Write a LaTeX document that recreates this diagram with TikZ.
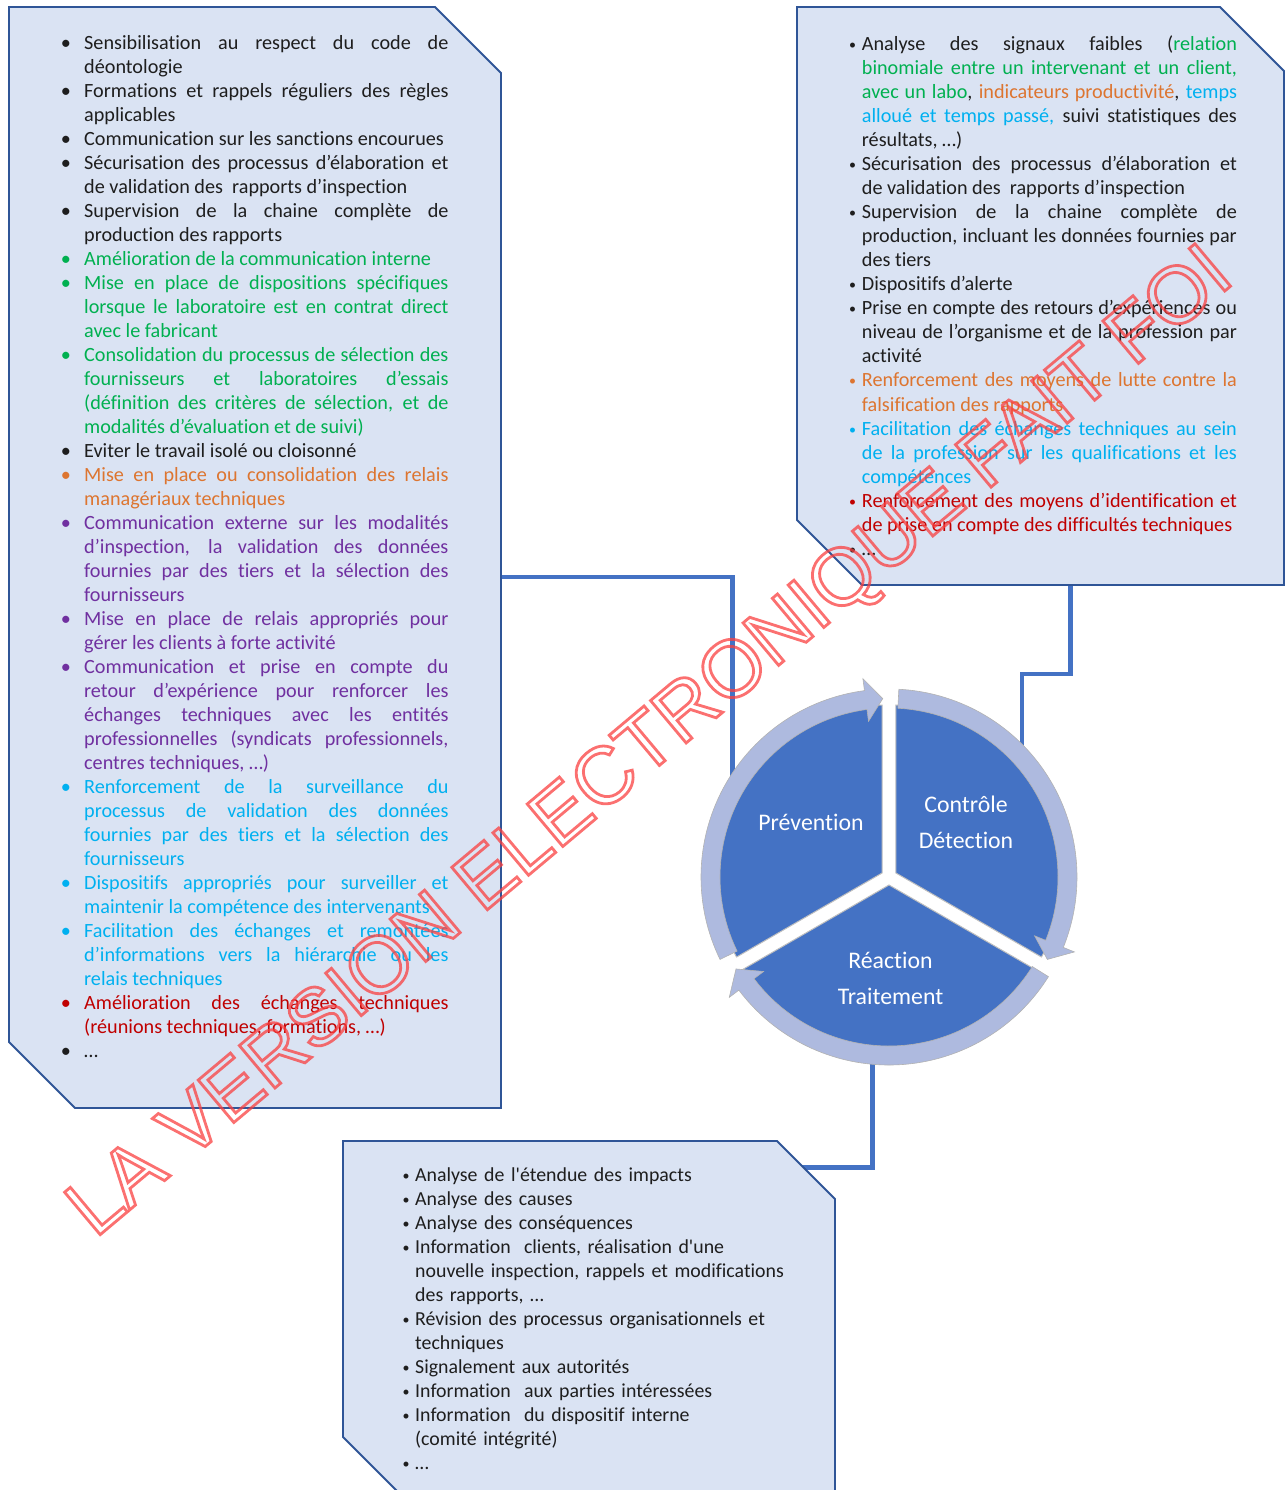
\documentclass[tikz,border=0pt]{standalone}
\usepackage{fontspec}
\setmainfont{Carlito}[Ligatures={TeX,CommonOff}]
\newfontfamily\plainq{Carlito}[Ligatures=CommonOff]
\newfontfamily\wmfamily{Liberation Sans}
\definecolor{tK}{HTML}{1E1E1E}
\definecolor{tG}{HTML}{00B050}
\definecolor{tO}{HTML}{DD7530}
\definecolor{tP}{HTML}{7030A0}
\definecolor{tB}{HTML}{00B0F0}
\definecolor{tR}{HTML}{C00000}
\definecolor{boxfill}{HTML}{DAE3F3}
\definecolor{boxline}{HTML}{2F5597}
\definecolor{cblue}{HTML}{4472C4}
\definecolor{pieblue}{HTML}{4472C4}
\definecolor{ringblue}{HTML}{AEBADF}
\definecolor{wmred}{rgb}{0.98,0.25,0.25}
\newlength\bhang
\newlength\boff
\newcommand\bglyph{•}
\newcommand\sq{{\plainq'}}
\newcommand\bitem[2]{\par\noindent\hangindent=\bhang\hangafter=1\relax
  \makebox[\bhang][l]{\hspace*{\boff}\makebox[0pt][c]{\textcolor{#1}{\bglyph}}}%
  \textcolor{#1}{#2}\par}
\newcommand\boxfont{\fontsize{20.2}{24.02}\selectfont}
\newcommand\bboxfont{\fontsize{19.85}{24.02}\selectfont}
\newcommand\piefont{\fontsize{23.8}{36}\selectfont}
\newcommand\wmfont{\wmfamily\fontsize{80.5}{80.5}\selectfont}
\newcommand\ringarrow[3]{\path[ringarr] (#1:188) arc[start angle=#1, end angle=#2, radius=188]
  -- (#2:200) -- (#3:178.5) -- (#2:157) -- (#2:169) arc[start angle=#2, end angle=#1, radius=169] -- cycle;}
\tikzset{
  boxshape/.style={fill=boxfill, draw=boxline, line width=1.8pt, line join=miter},
  connline/.style={draw=cblue, line width=4.5pt},
  txtblock/.style={anchor=base west, inner sep=0pt, font=\boxfont,
    execute at begin node={\tolerance=10000\hbadness=10000\hyphenpenalty=10000\exhyphenpenalty=10000}},
  piesector/.style={fill=pieblue, draw=black!25, line width=1pt},
  ringarr/.style={fill=ringblue, draw=black!30, line width=0.6pt},
  pielabel/.style={text=white, font=\piefont, text width=200pt, align=center, anchor=base, inner sep=0pt},
  wmark/.style={rotate=40, anchor=base west, inner sep=0pt, font=\wmfont, text=wmred, opacity=0.75}
}
\begin{document}
\begin{tikzpicture}[x=1pt,y=-1pt]
\path[use as bounding box] (0,0) rectangle (1285,1490);
\clip (0,0) rectangle (1285,1490);

% connector end points
\coordinate (lboxout) at (501,577);
\coordinate (rboxout) at (1070.5,585);
\coordinate (bboxin) at (795,1167.5);
\coordinate (cycW) at (732.5,795);
\coordinate (cycNE) at (1022,765);
\coordinate (cycS) at (872.5,1045);

% connectors
\draw[connline] (lboxout) -| (cycW);
\draw[connline] (rboxout) -- ++(0,89) -| (cycNE);
\draw[connline] (cycS) |- (bboxin);

% boxes
\draw[boxshape] (9,7) -- (435,7) -- (501,73) -- (501,1108) -- (75,1108) -- (9,1042) -- cycle;
\draw[boxshape] (797,7) -- (1220,7) -- (1284,71) -- (1284,585) -- (862,585) -- (797,520) -- cycle;
\draw[boxshape] (343,1141) -- (777,1141) -- (835,1199) -- (835,1500) -- (406,1500) -- (343,1437) -- cycle;

% left box text (anchor is one empty line above the first baseline)
\node[txtblock, text width=388.3pt, align=justify] (ltxt) at (60,25) {%
\setlength\bhang{24pt}\setlength\boff{5.8pt}%
\bitem{tK}{Sensibilisation au respect du code de\linebreak déontologie}
\bitem{tK}{Formations et rappels réguliers des règles\linebreak applicables}
\bitem{tK}{Communication sur les sanctions encourues}
\bitem{tK}{Sécurisation des processus d’élaboration et\linebreak de validation des\ \ rapports d’inspection}
\bitem{tK}{Supervision de la chaine complète de\linebreak production des rapports}
\bitem{tG}{Amélioration de la communication interne}
\bitem{tG}{Mise en place de dispositions spécifiques\linebreak lorsque le laboratoire est en contrat direct\linebreak avec le fabricant}
\bitem{tG}{Consolidation du processus de sélection des\linebreak fournisseurs et laboratoires d’essais\linebreak (définition des critères de sélection, et de\linebreak modalités d’évaluation et de suivi)}
\bitem{tK}{Eviter le travail isolé ou cloisonné}
\bitem{tO}{Mise en place ou consolidation des relais\linebreak managériaux techniques}
\bitem{tP}{Communication externe sur les modalités\linebreak d’inspection, la validation des données\linebreak fournies par des tiers et la sélection des\linebreak fournisseurs}
\bitem{tP}{Mise en place de relais appropriés pour\linebreak gérer les clients à forte activité}
\bitem{tP}{Communication et prise en compte du\linebreak retour d’expérience pour renforcer les\linebreak échanges techniques avec les entités\linebreak professionnelles (syndicats professionnels,\linebreak centres techniques, …)}
\bitem{tB}{Renforcement de la surveillance du\linebreak processus de validation des données\linebreak fournies par des tiers et la sélection des\linebreak fournisseurs}
\bitem{tB}{Dispositifs appropriés pour surveiller et\linebreak maintenir la compétence des intervenants}
\bitem{tB}{Facilitation des échanges et remontées\linebreak d’informations vers la hiérarchie ou les\linebreak relais techniques}
\bitem{tR}{Amélioration des échanges techniques\linebreak (réunions techniques, formations, …)}
\bitem{tK}{…}};

% right box text
\node[txtblock, text width=391.7pt, align=justify] (rtxt) at (845,26.7) {%
\setlength\bhang{16.7pt}\setlength\boff{7.5pt}%
\renewcommand\bglyph{\raisebox{1pt}{\fontsize{14}{14}\selectfont •}}%
\bitem{tK}{Analyse des signaux faibles (\textcolor{tG}{relation\linebreak binomiale entre un intervenant et un client,\linebreak avec un labo}, \textcolor{tO}{indicateurs productivité}, \textcolor{tB}{temps\linebreak alloué et temps passé,} suivi statistiques des\linebreak résultats, …)}
\bitem{tK}{Sécurisation des processus d’élaboration et\linebreak de validation des\ \ rapports d’inspection}
\bitem{tK}{Supervision de la chaine complète de\linebreak production, incluant les données fournies par\linebreak des tiers}
\bitem{tK}{Dispositifs d’alerte}
\bitem{tK}{Prise en compte des retours d’expériences ou\linebreak niveau de l’organisme et de la profession par\linebreak activité}
\bitem{tO}{Renforcement des moyens de lutte contre la\linebreak falsification des rapports}
\bitem{tB}{Facilitation des échanges techniques au sein\linebreak de la profession sur les qualifications et les\linebreak compétences}
\bitem{tR}{Renforcement des moyens d’identification et\linebreak de prise en compte des difficultés techniques}
\bitem{tK}{…}};

% bottom box text
\node[txtblock, text width=440pt, align=left, font=\bboxfont] (btxt) at (400,1157.7) {%
\setlength\bhang{15pt}\setlength\boff{6pt}%
\renewcommand\bglyph{\raisebox{1pt}{\fontsize{14}{14}\selectfont •}}%
\bitem{tK}{Analyse de l\sq étendue des impacts}
\bitem{tK}{Analyse des causes}
\bitem{tK}{Analyse des conséquences}
\bitem{tK}{Information\ \ clients, réalisation d\sq une\newline nouvelle inspection, rappels et modifications\newline des rapports, …}
\bitem{tK}{Révision des processus organisationnels et\newline techniques}
\bitem{tK}{Signalement aux autorités}
\bitem{tK}{Information\ \ aux parties intéressées}
\bitem{tK}{Information\ \ du dispositif interne\newline (comité intégrité)}
\bitem{tK}{…}};

% cycle
\begin{scope}[shift={(889,877)}, y=1pt]
  \path[piesector, shift={(150:8)}] (0,0) -- (90:168) arc[start angle=90, end angle=210, radius=168] -- cycle;
  \path[piesector, shift={(30:8)}] (0,0) -- (-30:168) arc[start angle=-30, end angle=90, radius=168] -- cycle;
  \path[piesector, shift={(270:8)}] (0,0) -- (210:168) arc[start angle=210, end angle=330, radius=168] -- cycle;
  \ringarrow{206}{97.5}{92}
  \ringarrow{87}{-22}{-27.5}
  \ringarrow{-32}{-143}{-149}
\end{scope}
\node[pielabel] (prev) at (811,830) {Prévention};
\node[pielabel] (ctrl) at (966,812.5) {Contrôle\\Détection};
\node[pielabel] (reac) at (890.5,968.5) {Réaction\\Traitement};

% watermark
\node[wmark] (wm) at (95,1239) {\special{pdf:literal 1 Tr 2.8 w}LA VERSION ELECTRONIQUE FAIT FOI\special{pdf:literal 0 Tr}};
\end{tikzpicture}
\end{document}
